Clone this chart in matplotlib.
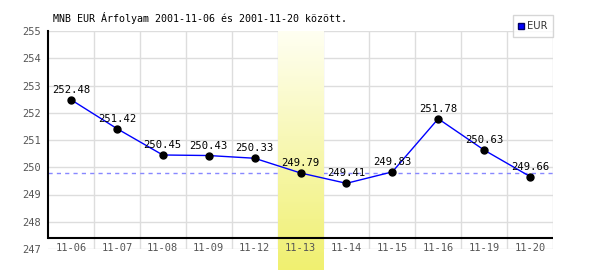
import numpy as np
import matplotlib
matplotlib.use("Agg")
import matplotlib.pyplot as plt
from matplotlib.lines import Line2D
from matplotlib.colors import LinearSegmentedColormap

title = "MNB EUR Árfolyam 2001-11-06 és 2001-11-20 között."
categories = ["11-06", "11-07", "11-08", "11-09", "11-12", "11-13",
              "11-14", "11-15", "11-16", "11-19", "11-20"]
values = [252.48, 251.42, 250.45, 250.43, 250.33, 249.79,
          249.41, 249.83, 251.78, 250.63, 249.66]
series_name = "EUR"
highlight_index = 5
y_ticks = [247, 248, 249, 250, 251, 252, 253, 254, 255]

mono = "DejaVu Sans Mono"
W, H = 600, 270
fig = plt.figure(figsize=(6, 2.7), dpi=100)
left_px, right_px, top_px, bot_px = 48, 553, 31, 249
ax = fig.add_axes([left_px / W, 1 - bot_px / H, (right_px - left_px) / W, (bot_px - top_px) / H])

n = len(categories)
x = np.arange(n)
ymin, ymax = y_ticks[0], y_ticks[-1]

# grid
for yv in y_ticks:
    ax.axhline(yv, color="#dddddd", lw=1, zorder=0)
for xv in np.arange(n) + 0.5:
    ax.axvline(xv, color="#dddddd", lw=1, zorder=0)

# reference dashed line at highlighted value
ax.axhline(values[highlight_index], color="#8888ff", lw=1, dashes=(3, 3), zorder=1)

# highlight column with gradient, extended to bottom of figure
px_per_unit = (bot_px - top_px) / (ymax - ymin)
ext_bottom = ymin - (H - bot_px) / px_per_unit
cmap = LinearSegmentedColormap.from_list("hl", ["#fffff2", "#f7f7b0", "#f0f070"])
grad = np.linspace(0, 1, 256).reshape(-1, 1)
ax.imshow(grad, aspect="auto", cmap=cmap, origin="upper",
          extent=(highlight_index - 0.5, highlight_index + 0.5, ext_bottom, ymax),
          zorder=1.5, clip_on=False)
ax.set_xlim(-0.5, n - 0.5)
ax.set_ylim(ymin, ymax)

# spines
for s in ["top", "right", "bottom"]:
    ax.spines[s].set_visible(False)
axis_y = ymin + (bot_px - 238) / px_per_unit
ax.axhline(axis_y, color="black", lw=1.5, zorder=2)
ax.spines["left"].set_bounds(axis_y, ymax)
ax.spines["left"].set_linewidth(1.5)
ax.spines["left"].set_zorder(3)

# data
ax.plot(x, values, color="#0000ff", lw=1, zorder=3)
ax.plot(x, values, "o", color="black", ms=5, zorder=4)
for xi, v in zip(x, values):
    ax.annotate(f"{v:.2f}", (xi, v), xytext=(0, 3.5), textcoords="offset points",
                ha="center", va="bottom", fontsize=7.6, family=mono, color="black", zorder=5)

# ticks
ax.set_yticks(y_ticks)
ax.set_yticklabels([str(t) for t in y_ticks], family=mono, fontsize=7.5, color="#555555")
ax.tick_params(axis="y", length=0, pad=5)
ax.set_xticks([])
trans = ax.get_xaxis_transform()
for xi, c in zip(x, categories):
    ax.text(xi, 0.005, c, transform=trans, ha="center", va="center", fontsize=7.5,
            family=mono, color="#555555", zorder=6)

# title
fig.text(53 / W, 1 - 18 / H, title, ha="left", va="center", fontsize=7.2, family=mono, color="black")

# legend
handle = Line2D([], [], marker="s", color="none", markerfacecolor="#0000ff",
                markeredgecolor="#000066", markersize=4)
leg = fig.legend([handle], [series_name], loc="upper right",
                 bbox_to_anchor=(553 / W, 1 - 15 / H), frameon=True, fancybox=False,
                 edgecolor="#cccccc", fontsize=7.2, handlelength=0.5, handletextpad=0.3,
                 borderpad=0.6, borderaxespad=0)
leg.get_frame().set_linewidth(1)
for t in leg.get_texts():
    t.set_color("#333333")

fig.savefig("out.png", dpi=100)
